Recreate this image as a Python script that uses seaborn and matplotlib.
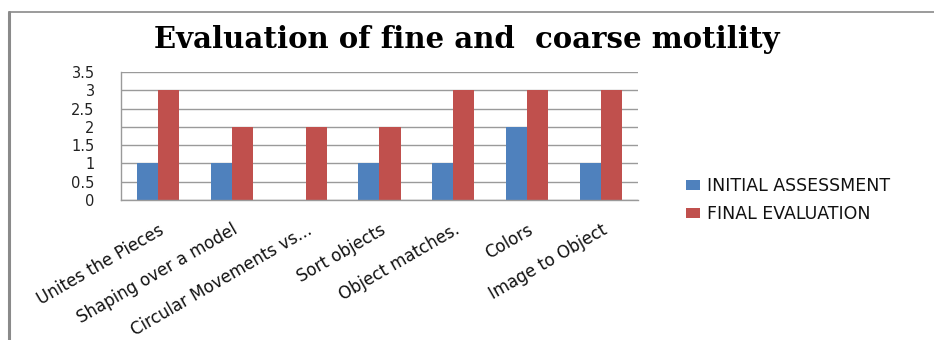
import matplotlib
matplotlib.use("Agg")
import matplotlib.pyplot as plt
from matplotlib.lines import Line2D
import seaborn as sns
import pandas as pd

categories = ["Unites the Pieces", "Shaping over a model", "Circular Movements vs...",
              "Sort objects", "Object matches.", "Colors", "Image to Object"]
initial = [1, 1, 0, 1, 1, 2, 1]
final = [3, 2, 2, 2, 3, 3, 3]
series = ["INITIAL ASSESSMENT", "FINAL EVALUATION"]
yticks = [0, 0.5, 1, 1.5, 2, 2.5, 3, 3.5]
ytick_labels = ["0", "0.5", "1", "1.5", "2", "2.5", "3", "3.5"]

df = pd.DataFrame({
    "category": categories * 2,
    "value": initial + final,
    "series": [series[0]] * len(categories) + [series[1]] * len(categories),
})

sns.set_theme(style="white")
plt.rcParams['font.family'] = ['DejaVu Sans']

fig = plt.figure(figsize=(9.34, 3.40), dpi=100)
ax = fig.add_axes([121 / 934, 1 - 200 / 340, (638 - 121) / 934, (200 - 72) / 340])

sns.barplot(data=df, x="category", y="value", hue="series",
            palette=["#4F81BD", "#C0504D"], width=0.57, ax=ax,
            saturation=1, edgecolor="none", legend=True, errorbar=None)

ax.set_ylim(0, 3.5)
ax.set_yticks(yticks)
ax.set_yticklabels(ytick_labels, fontsize=10.5, color="#222222")
ax.set_xlim(-0.5, len(categories) - 0.5)
ax.set_xlabel("")
ax.set_ylabel("")
ax.yaxis.grid(True, color="#9a9a9a", linewidth=1)
ax.set_axisbelow(True)
ax.tick_params(axis="y", length=0, pad=19)
ax.tick_params(axis="x", length=0, pad=15)
for lbl in ax.get_xticklabels():
    lbl.set_rotation(30)
    lbl.set_ha("right")
    lbl.set_rotation_mode("anchor")
    lbl.set_fontsize(12)
    lbl.set_color("#111111")
for s in ["top", "right"]:
    ax.spines[s].set_visible(False)
for s in ["left", "bottom"]:
    ax.spines[s].set_color("#9a9a9a")
    ax.spines[s].set_linewidth(1)

handles, labels = ax.get_legend_handles_labels()
ax.legend(handles, labels, loc="center left", bbox_to_anchor=(670 / 934, 1 - 200 / 340),
          bbox_transform=fig.transFigure, frameon=False, fontsize=12.5,
          handlelength=0.8, handleheight=0.5, handletextpad=0.45, labelspacing=0.6,
          labelcolor="#111111")

fig.text(0.5, 1 - 40 / 340, "Evaluation of fine and  coarse motility", ha="center", va="center",
         fontfamily="DejaVu Serif", fontweight="bold", fontsize=21, color="black")

fig.add_artist(Line2D([9 / 934, 9 / 934], [0, 1 - 12 / 340], transform=fig.transFigure,
                      color="#8a8a8a", linewidth=2.2))
fig.add_artist(Line2D([9 / 934, 1], [1 - 12 / 340, 1 - 12 / 340], transform=fig.transFigure,
                      color="#8a8a8a", linewidth=1.2))

fig.savefig("out.png", dpi=100)
